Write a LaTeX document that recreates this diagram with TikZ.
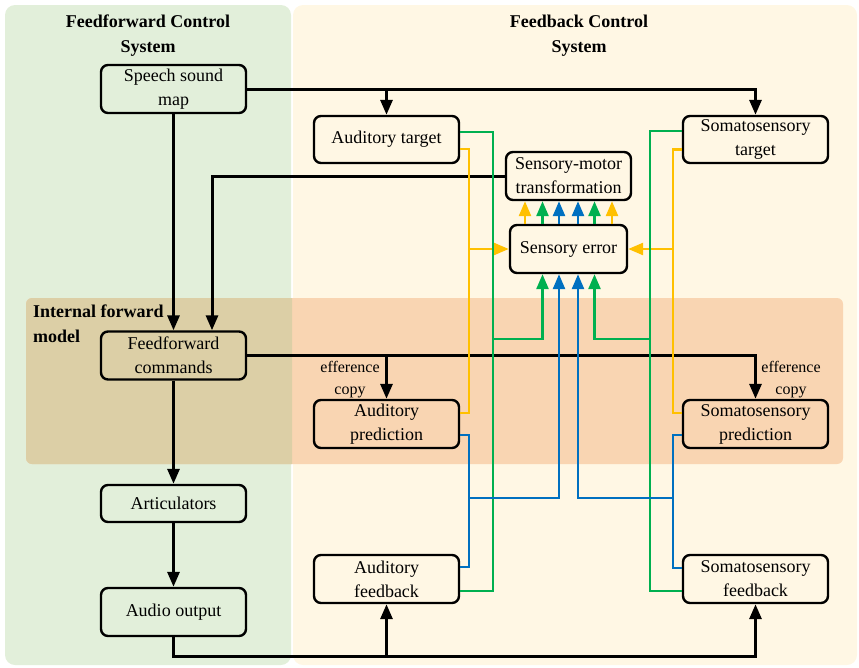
\documentclass[tikz,border=0pt]{standalone}
\usepackage{fontspec}
\setmainfont{Liberation Serif}
\usetikzlibrary{positioning,arrows.meta,calc}
\definecolor{ffgreen}{HTML}{E2EFDA}
\definecolor{fbcream}{HTML}{FFF7E4}
\definecolor{ifmorange}{HTML}{F9D5B2}
\definecolor{ifmtan}{HTML}{DCCFA6}
\definecolor{sigyellow}{HTML}{FFC000}
\definecolor{siggreen}{HTML}{00B050}
\definecolor{sigblue}{HTML}{0070C0}

\begin{document}
\begin{tikzpicture}[
			x=1pt, y=-1pt,
			box/.style={draw, line width=2.4pt, rounded corners=7pt, align=center,
					minimum width=145pt, minimum height=48pt, inner sep=2pt,
					font=\fontsize{18}{24}\selectfont},
			title/.style={align=center, font=\fontsize{18}{25}\selectfont\bfseries},
			note/.style={align=center, font=\fontsize{16}{22}\selectfont},
			flow/.style={line width=3pt, -{Triangle[length=15pt,width=12pt]}},
			sig/.style={line width=2.6pt, -{Triangle[length=15pt,width=12pt]}},
			bus/.style={line width=2.6pt}
		]
		\useasboundingbox (0,0) rectangle (859,667);

		% panels
		\fill[ffgreen, rounded corners=10pt] (5,5) rectangle (291,665);
		\fill[fbcream, rounded corners=10pt] (293,5) rectangle (857,665);
		\fill[ifmorange, rounded corners=6pt] (26,298) rectangle (843,464);
		\begin{scope}
			\clip (0,0) rectangle (292,667);
			\fill[ifmtan, rounded corners=6pt] (26,298) rectangle (843,464);
		\end{scope}

		\node[title] (fftitle) at (148,36) {Feedforward Control\\System};
		\node[title] (fbtitle) at (579,36) {Feedback Control\\System};
		\node[title, align=left, anchor=west, inner sep=0pt] (ifmtitle) at (33,323.5) {Internal forward\\model};

		% boxes
		\node[box] (speech) at (173.5,89) {Speech sound\\map};
		\node[box, minimum height=47pt] (audtarget) at (386.5,139.5) {Auditory target};
		\node[box, minimum height=47pt] (somtarget) at (755.5,139.5) {Somatosensory\\target};
		\node[box, minimum width=125pt] (smtrans) at (568.5,176) {Sensory-motor\\transformation};
		\node[box, minimum width=117pt] (senserr) at (568.5,249) {Sensory error};
		\node[box] (ffcmd) at (173.5,355.5) {Feedforward\\commands};
		\node[box] (audpred) at (386.5,424) {Auditory\\prediction};
		\node[box] (sompred) at (755.5,424) {Somatosensory\\prediction};
		\node[box, minimum height=37pt] (artic) at (173.5,503.5) {Articulators};
		\node[box] (audout) at (173.5,612) {Audio output};
		\node[box] (audfb) at (386.5,579) {Auditory\\feedback};
		\node[box] (somfb) at (755.5,579) {Somatosensory\\feedback};

		\node[note] (effL) at (350,380) {efference\\copy};
		\node[note] (effR) at (791,380) {efference\\copy};

		% black connectors
		\draw[flow] (speech.east) -| (somtarget.north);
		\draw[flow] (speech.east -| audtarget.north) -- (audtarget.north);
		\draw[flow] (speech.south) -- (ffcmd.north);
		\draw[flow] (smtrans.west) -| ([xshift=38.5pt]ffcmd.north);
		\draw[flow] (ffcmd.east) -| (sompred.north);
		\draw[flow] (ffcmd.east -| audpred.north) -- (audpred.north);
		\draw[flow] (ffcmd.south) -- (artic.north);
		\draw[flow] (artic.south) -- (audout.north);
		\coordinate (rail) at ($(audout.south)+(0,19)$);
		\draw[flow] (audout.south) -- (rail) -| (somfb.south);
		\draw[flow] (rail -| audfb.south) -- (audfb.south);

		% coloured buses
		\coordinate (yelL) at (469,249);
		\coordinate (yelR) at (673,249);
		\coordinate (grnL) at (493,339);
		\coordinate (grnR) at (650,339);
		\coordinate (bluL) at (469,498);
		\coordinate (bluR) at (673,498);

		\draw[bus, sigyellow] ([yshift=-9.5pt]audtarget.east) -| (yelL) |- ([yshift=11pt]audpred.east);
		\draw[sig, sigyellow] (yelL) -- (senserr.west);
		\draw[bus, sigyellow] ([yshift=-10pt]somtarget.west) -| (yelR) |- ([yshift=11pt]sompred.west);
		\draw[sig, sigyellow] (yelR) -- (senserr.east);

		\draw[bus, siggreen] ([yshift=7.5pt]audtarget.east) -| (grnL) |- ([yshift=-12pt]audfb.east);
		\draw[sig, siggreen] (grnL) -| ([xshift=-26pt]senserr.south);
		\draw[bus, siggreen] ([yshift=8.5pt]somtarget.west) -| (grnR) |- ([yshift=-12pt]somfb.west);
		\draw[sig, siggreen] (grnR) -| ([xshift=26pt]senserr.south);

		\draw[bus, sigblue] ([yshift=-11pt]audpred.east) -| (bluL) |- ([yshift=12pt]audfb.east);
		\draw[sig, sigblue] (bluL) -| ([xshift=-9.5pt]senserr.south);
		\draw[bus, sigblue] ([yshift=-11pt]sompred.west) -| (bluR) |- ([yshift=11pt]somfb.west);
		\draw[sig, sigblue] (bluR) -| ([xshift=9.5pt]senserr.south);

		\foreach \dx/\col in {-43.5/sigyellow, -26/siggreen, -9.5/sigblue, 9.5/sigblue, 26/siggreen, 43.5/sigyellow}
			\draw[sig, \col] ([xshift=\dx pt]senserr.north) -- ([xshift=\dx pt]smtrans.south);
	\end{tikzpicture}
\end{document}
